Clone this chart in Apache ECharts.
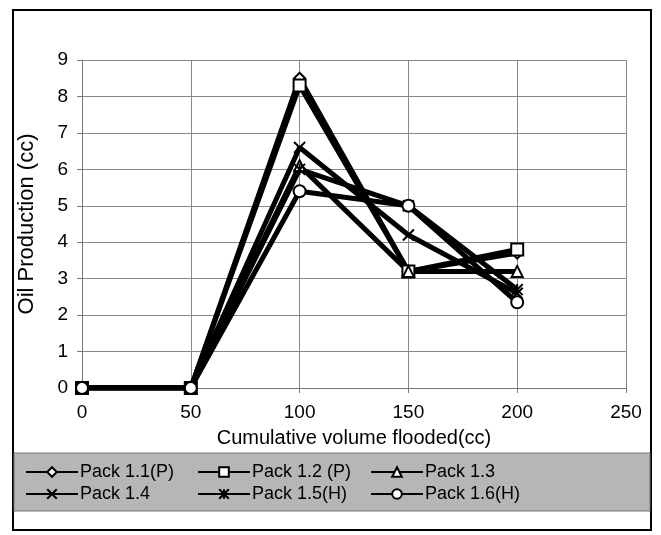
<!DOCTYPE html>
<html><head><meta charset="utf-8">
<script src="https://cdn.jsdelivr.net/npm/echarts@6/dist/echarts.min.js"></script>
<style>html,body{margin:0;padding:0;background:#fff}#c{width:661px;height:535px}</style>
</head><body><div id="c"></div>
<script>
const xValues = [0, 50, 100, 150, 200];
const seriesNames = ['Pack 1.1(P)', 'Pack 1.2 (P)', 'Pack 1.3', 'Pack 1.4', 'Pack 1.5(H)', 'Pack 1.6(H)'];
const pack11 = [0, 0, 8.5, 3.2, 3.7];
const pack12 = [0, 0, 8.3, 3.2, 3.8];
const pack13 = [0, 0, 6.1, 3.2, 3.2];
const pack14 = [0, 0, 6.6, 4.2, 2.6];
const pack15 = [0, 0, 6.0, 5.0, 2.7];
const pack16 = [0, 0, 5.4, 5.0, 2.35];
const allValues = [pack11, pack12, pack13, pack14, pack15, pack16];

const symbols = [
  'diamond', 'rect', 'triangle',
  'path://M0,0L10,10M10,0L0,10',
  'path://M0,0L10,10M10,0L0,10M5,0L5,10',
  'circle'
];
const symSizes = [11, 12, 11, 11, 11, 12];
const font = 'Liberation Sans, Arial, sans-serif';

const series = seriesNames.map((n, i) => ({
  name: n, type: 'line',
  data: xValues.map((x, j) => [x, allValues[i][j]]),
  symbol: symbols[i], symbolSize: symSizes[i],
  lineStyle: { color: '#000', width: 5 },
  itemStyle: { color: '#fff', borderColor: '#000', borderWidth: 2 },
  emphasis: { disabled: true },
  animation: false, z: 3
}));

const legendPos = [
  { left: 20, top: 458 }, { left: 192, top: 458 }, { left: 365, top: 458 },
  { left: 20, top: 480 }, { left: 192, top: 480 }, { left: 365, top: 480 }
];
const legends = seriesNames.map((n, i) => ({
  data: [n], left: legendPos[i].left, top: legendPos[i].top,
  itemWidth: 52, itemHeight: 12, itemGap: 4,
  textStyle: { fontFamily: font, fontSize: 18, color: '#000', padding: [0,0,0,-3] },
  selectedMode: false
}));

const chart = echarts.init(document.getElementById('c'), null, { renderer: 'canvas' });
chart.setOption({
  backgroundColor: '#fff',
  animation: false,
  graphic: [
    { type: 'rect', shape: { x: 13, y: 10, width: 638, height: 520 }, style: { fill: 'none', stroke: '#000', lineWidth: 2 }, z: 0 },
    { type: 'rect', shape: { x: 14, y: 453, width: 636, height: 58 }, style: { fill: '#b6b6b6', stroke: '#777', lineWidth: 1 }, z: 0 }
  ],
  grid: { left: 82, right: 35, top: 60, bottom: 147 },
  legend: legends,
  xAxis: {
    type: 'value', min: 0, max: 250, interval: 50,
    name: 'Cumulative volume flooded(cc)', nameLocation: 'middle', nameGap: 40,
    nameTextStyle: { fontFamily: font, fontSize: 20, color: '#000' },
    axisLine: { show: true, onZero: false, lineStyle: { color: '#777', width: 1 } },
    axisTick: { show: true, length: 5, inside: false, lineStyle: { color: '#777' } },
    axisLabel: { fontFamily: font, fontSize: 19, color: '#000', margin: 15 },
    splitLine: { show: true, lineStyle: { color: '#888', width: 1 } }
  },
  yAxis: {
    type: 'value', min: 0, max: 9, interval: 1,
    name: 'Oil Production (cc)', nameLocation: 'middle', nameGap: 44,
    nameTextStyle: { fontFamily: font, fontSize: 22, color: '#000' },
    axisLine: { show: true, lineStyle: { color: '#777', width: 1 } },
    axisTick: { show: true, length: 5, lineStyle: { color: '#777' } },
    axisLabel: { fontFamily: font, fontSize: 19, color: '#000', margin: 14 },
    splitLine: { show: true, lineStyle: { color: '#888', width: 1 } }
  },
  series: series
});
</script></body></html>
